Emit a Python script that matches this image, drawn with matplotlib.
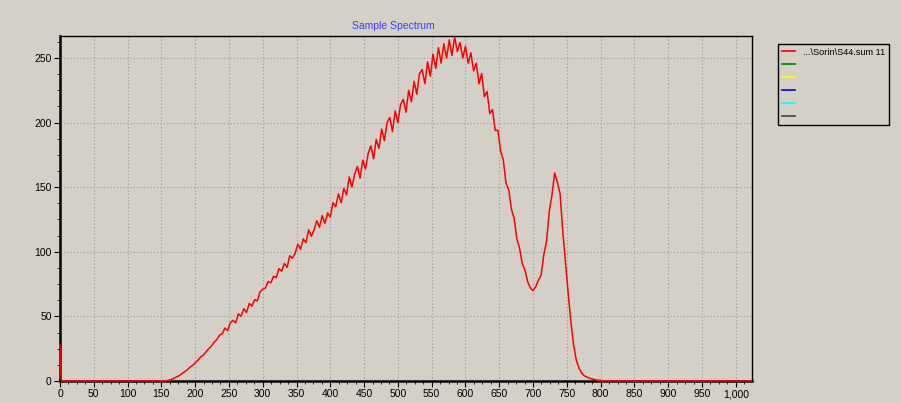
import numpy as np
import matplotlib
matplotlib.use("Agg")
import matplotlib.pyplot as plt
from matplotlib.ticker import MultipleLocator, AutoMinorLocator, FuncFormatter
from matplotlib.lines import Line2D

plt.rcParams['font.family'] = ['Liberation Sans', 'DejaVu Sans']

# spectrum data
head_channels = [0, 1, 2, 3, 156]
head_counts = [28, 6, 1, 0, 0]

body_start = 160
body_step = 4
body_counts = [
    0.5, 1, 2, 3, 4, 5.5, 7, 8.5, 10.5, 12,
    14, 16, 18.5, 20, 22.5, 25, 27, 30, 32, 35.5,
    36.5, 41, 39, 45, 47, 45, 52, 50, 56, 53,
    60, 58, 63, 62, 69, 71, 72, 77, 76, 81,
    80, 87, 85, 91, 88, 97, 95, 99, 106, 102,
    110, 107, 117, 112, 117, 124, 119, 128, 122, 130,
    127, 138, 135, 145, 138, 149, 144, 158, 150, 160,
    166, 157, 171, 164, 176, 182, 172, 187, 180, 195,
    186, 200, 204, 193, 209, 200, 214, 218, 208, 225,
    216, 232, 222, 238, 241, 230, 247, 236, 253, 242,
    258, 246, 261, 250, 264, 252, 266, 255, 262, 250,
    259, 246, 254, 240, 246, 230, 238, 220, 224, 207,
    210, 194, 194, 178, 171, 153, 148, 133, 126, 110,
    103, 91, 86, 77, 72, 70, 73, 78, 82, 98,
    108, 131, 144, 161, 154, 145, 116, 92, 68, 46,
    28, 16, 10, 6, 4, 3, 2, 1.5, 1, 0.5,
    0.5,
]
tail_channels = [804, 1023]
tail_counts = [0, 0]

legend_label = "...\\Sorin\\S44.sum 11"
series_colors = ["#ff0000", "#008000", "#ffff00", "#0000ff", "#00ffff", "#404040"]

bg = "#d4d0c8"

body_channels = list(range(body_start, body_start + body_step * len(body_counts), body_step))
channels = head_channels + body_channels + tail_channels
counts = head_counts + body_counts + tail_counts

fig = plt.figure(figsize=(9.01, 4.03), dpi=100, facecolor=bg)
ax = fig.add_axes([0.0666, 0.0546, 0.768, 0.856], facecolor=bg)

ax.plot(channels, counts, color="#ff0000", lw=1.1, zorder=5, clip_on=False)

ax.set_xlim(0, 1024)
ax.set_ylim(0, 267)

ax.xaxis.set_major_locator(MultipleLocator(50))
ax.yaxis.set_major_locator(MultipleLocator(50))
ax.xaxis.set_minor_locator(AutoMinorLocator(4))
ax.yaxis.set_minor_locator(AutoMinorLocator(4))
ax.xaxis.set_major_formatter(FuncFormatter(lambda v, p: "{:,.0f}".format(v)))

ax.tick_params(which="major", direction="out", length=4, width=0.8, labelsize=7.5,
               colors="black", pad=2)
ax.tick_params(which="minor", direction="out", length=2.5, width=0.6)

ax.grid(True, which="major", color="#9a9a9a", linestyle=(0, (1, 2)), linewidth=0.8)
ax.set_axisbelow(True)

for side in ["left", "bottom"]:
    ax.spines[side].set_linewidth(1.8)
for side in ["top", "right"]:
    ax.spines[side].set_linewidth(1.0)

fig.text(0.437, 0.936, "Sample Spectrum", color="#3c3cff", fontsize=7.5,
         ha="center", va="center")

handles = [Line2D([], [], color=c, lw=1.2) for c in series_colors]
labels = [legend_label, "", "", "", "", ""]
leg = fig.legend(handles, labels, loc="upper left", bbox_to_anchor=(0.8635, 0.891),
                 fontsize=6.6, frameon=True, fancybox=False, framealpha=1,
                 facecolor=bg, edgecolor="black", handlelength=1.5,
                 handletextpad=0.8, labelspacing=0.42, borderpad=0.4,
                 borderaxespad=0)
leg.get_frame().set_linewidth(1.0)

fig.savefig("out.png", dpi=100, facecolor=bg)
